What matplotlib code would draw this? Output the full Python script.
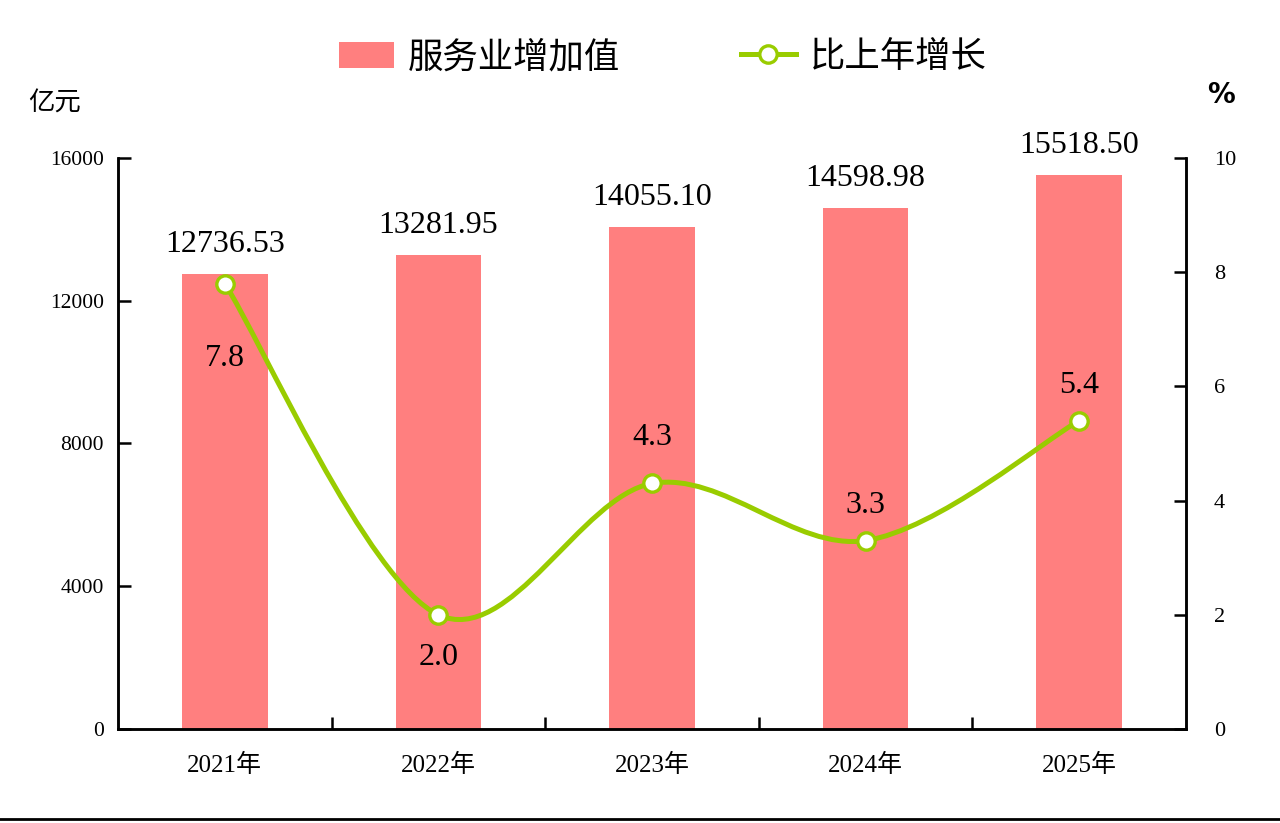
import matplotlib
matplotlib.use("Agg")
import matplotlib.pyplot as plt
from matplotlib.path import Path
from matplotlib.patches import PathPatch, Patch
from matplotlib.lines import Line2D
import numpy as np

years = ["2021年", "2022年", "2023年", "2024年", "2025年"]
value_added = [12736.53, 13281.95, 14055.10, 14598.98, 15518.50]
growth = [7.8, 2.0, 4.3, 3.3, 5.4]
value_labels = ["12736.53", "13281.95", "14055.10", "14598.98", "15518.50"]
growth_labels = ["7.8", "2.0", "4.3", "3.3", "5.4"]

bar_color = "#FF7F7F"
line_color = "#99CC00"
serif = ["Liberation Serif", "Noto Sans CJK SC"]

fig = plt.figure(figsize=(12.8, 8.23), dpi=100)
ax = fig.add_axes([118 / 1280, 1 - 729 / 823, (1186 - 118) / 1280, (729 - 158) / 823])
ax2 = ax.twinx()

x = np.arange(len(years))
ax.bar(x, value_added, width=0.4, color=bar_color, zorder=1)
ax.set_xlim(-0.5, len(years) - 0.5)
ax.set_ylim(0, 16000)
ax.set_yticks([0, 4000, 8000, 12000, 16000])
ax2.set_ylim(0, 10)
ax2.set_yticks([0, 2, 4, 6, 8, 10])

# bar value labels
for xi, v, lab in zip(x, value_added, value_labels):
    ax.annotate(lab, (xi, v), xytext=(0, 11), textcoords="offset points",
                ha="center", va="bottom", fontsize=23, family=serif)

# smooth line through the growth points (Catmull-Rom as Bezier)
pts = np.column_stack([x, growth]).astype(float)
ext = np.vstack([pts[0], pts, pts[-1]])
verts = [tuple(pts[0])]
codes = [Path.MOVETO]
for i in range(1, len(ext) - 2):
    p0, p1, p2, p3 = ext[i - 1], ext[i], ext[i + 1], ext[i + 2]
    c1 = p1 + (p2 - p0) / 6
    c2 = p2 - (p3 - p1) / 6
    verts += [tuple(c1), tuple(c2), tuple(p2)]
    codes += [Path.CURVE4] * 3
ax2.add_patch(PathPatch(Path(verts, codes), fill=False, edgecolor=line_color,
                        linewidth=3.6, zorder=3, capstyle="round"))
ax2.plot(x, growth, linestyle="none", marker="o", markersize=12.5,
         markerfacecolor="white", markeredgecolor=line_color,
         markeredgewidth=2.4, zorder=4)

growth_offsets = [-54, -31, 33, 25, 25]
for xi, g, lab, off in zip(x, growth, growth_labels, growth_offsets):
    ax2.annotate(lab, (xi, g), xytext=(0, off), textcoords="offset points",
                 ha="center", va="center", fontsize=23, family=serif)

# axes styling
for a in (ax, ax2):
    for s in a.spines.values():
        s.set_linewidth(1.8)
    a.spines["top"].set_visible(False)
ax.set_xticks(x)
ax.set_xticklabels(years, family=serif, fontsize=18)
ax.set_xticks(x[:-1] + 0.5, minor=True)
ax.tick_params(axis="x", which="major", length=0, pad=18)
ax.tick_params(axis="x", which="minor", direction="in", length=9, width=1.8)
ax.tick_params(axis="y", direction="in", length=9, width=1.8, labelsize=15.5, pad=10)
ax2.tick_params(axis="y", direction="in", length=9, width=1.8, labelsize=16, pad=20)
for lab in ax.get_yticklabels() + ax2.get_yticklabels():
    lab.set_family(serif)

fig.text(28 / 1280, 1 - 103 / 823, "亿元", fontsize=19, family=["Noto Sans CJK SC"],
         ha="left", va="center")
fig.text(1221 / 1280, 1 - 95 / 823, "%", fontsize=20, fontweight="bold",
         family=["DejaVu Sans"], ha="center", va="center")

handles = [Patch(facecolor=bar_color, edgecolor="none"),
           Line2D([], [], color=line_color, linewidth=3.6, marker="o", markersize=12.5,
                  markerfacecolor="white", markeredgecolor=line_color, markeredgewidth=2.4)]
fig.legend(handles, ["服务业增加值", "比上年增长"], loc="center",
           bbox_to_anchor=(663 / 1280, 1 - 57 / 823), ncol=2, frameon=False,
           prop={"family": "Noto Sans CJK SC", "size": 25.5}, handlelength=1.55,
           handleheight=0.75, columnspacing=3.4, handletextpad=0.4)

fig.add_artist(Line2D([0, 1], [1 - 819 / 823] * 2, color="black", linewidth=2,
                      transform=fig.transFigure))

fig.savefig("out.png", dpi=100)
